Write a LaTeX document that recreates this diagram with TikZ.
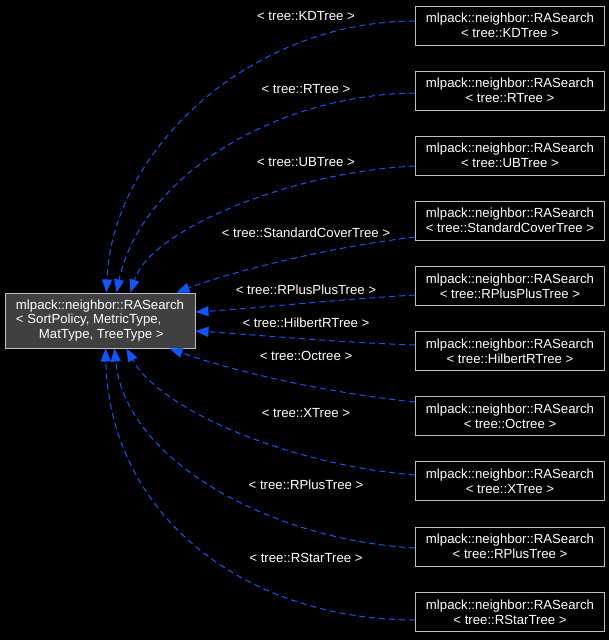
\documentclass[tikz,border=0pt]{standalone}
\usepackage{fontspec}
\setmainfont{Liberation Sans}
\usetikzlibrary{arrows.meta}
\definecolor{EdgeBlue}{RGB}{16,86,255}
\definecolor{NodeGray}{RGB}{64,64,64}
\definecolor{FrameGray}{RGB}{191,191,191}

\begin{document}
\begin{tikzpicture}[
    x=1pt,
    y=-1pt,
    font=\fontsize{13.2}{14.6}\selectfont,
    every node/.style={text=white},
    base/.style={
        draw=FrameGray,
        line width=1pt,
        fill=NodeGray,
        minimum width=190pt,
        minimum height=55pt,
        inner sep=0pt,
        align=left
    },
    spec/.style={
        draw=FrameGray,
        line width=1pt,
        fill=black,
        minimum width=189pt,
        minimum height=39pt,
        inner sep=0pt,
        align=center
    },
    dep/.style={
        draw=EdgeBlue,
        line width=1pt,
        dash pattern=on 6pt off 4pt,
        -{Triangle[length=13pt,width=10pt]}
    },
    lbl/.style={inner sep=1pt}
]

\fill[black] (0,0) rectangle (609,640);
\useasboundingbox (0,0) rectangle (609,640);

\node[base] (ra) at (100,320.5) {mlpack::neighbor::RASearch\\< SortPolicy, MetricType,\\\hspace*{23pt}MatType, TreeType >};

\node[spec] (kd)  at (510,25.5)  {mlpack::neighbor::RASearch\\< tree::KDTree >};
\node[spec] (rt)  at (510,90.5)  {mlpack::neighbor::RASearch\\< tree::RTree >};
\node[spec] (ub)  at (510,155.5) {mlpack::neighbor::RASearch\\< tree::UBTree >};
\node[spec] (sc)  at (510,220.5) {mlpack::neighbor::RASearch\\< tree::StandardCoverTree >};
\node[spec] (rpp) at (510,286)   {mlpack::neighbor::RASearch\\< tree::RPlusPlusTree >};
\node[spec] (hil) at (510,351)   {mlpack::neighbor::RASearch\\< tree::HilbertRTree >};
\node[spec] (oct) at (510,416)   {mlpack::neighbor::RASearch\\< tree::Octree >};
\node[spec] (xt)  at (510,481)   {mlpack::neighbor::RASearch\\< tree::XTree >};
\node[spec] (rp)  at (510,546.5) {mlpack::neighbor::RASearch\\< tree::RPlusTree >};
\node[spec] (rs)  at (510,612)   {mlpack::neighbor::RASearch\\< tree::RStarTree >};

% edges, top group
\draw[dep] ([yshift=4.5pt]kd.west) .. controls (250,21) and (112,150) .. ([xshift=102pt]ra.north west);
\draw[dep] ([yshift=-2.5pt]rt.west) .. controls (270,95) and (140,180) .. ([xshift=112pt]ra.north west);
\draw[dep] ([yshift=-10.5pt]ub.west) .. controls (290,172) and (150,230) .. ([xshift=126pt]ra.north west);
\draw[dep] ([yshift=-16.5pt]sc.west) .. controls (330,247) and (230,272) .. ([xshift=172pt]ra.north west);
\draw[dep] ([yshift=-9pt]rpp.west) .. controls (330,300) and (260,308) .. ([yshift=-19.5pt]ra.north east);
\draw[dep] ([yshift=6pt]hil.west) .. controls (330,342) and (260,335) .. ([yshift=17.5pt]ra.south east);
% edges, bottom group
\draw[dep] ([yshift=14pt]oct.west) .. controls (320,392) and (230,370) .. ([xshift=165pt]ra.south west);
\draw[dep] ([yshift=6pt]xt.west) .. controls (290,465) and (160,410) .. ([xshift=122pt]ra.south west);
\draw[dep] ([yshift=-1.5pt]rp.west) .. controls (270,540) and (125,460) .. ([xshift=110pt]ra.south west);
\draw[dep] ([yshift=-8pt]rs.west) .. controls (250,620) and (110,520) .. ([xshift=101pt]ra.south west);

\node[lbl] (lkd)  at (306,16)  {< tree::KDTree >};
\node[lbl] (lrt)  at (306,89)  {< tree::RTree >};
\node[lbl] (lub)  at (306,162) {< tree::UBTree >};
\node[lbl] (lsc)  at (306,233) {< tree::StandardCoverTree >};
\node[lbl] (lrpp) at (306,290) {< tree::RPlusPlusTree >};
\node[lbl] (lhil) at (306,323) {< tree::HilbertRTree >};
\node[lbl] (loct) at (306,356) {< tree::Octree >};
\node[lbl] (lxt)  at (306,413) {< tree::XTree >};
\node[lbl] (lrp)  at (306,485) {< tree::RPlusTree >};
\node[lbl] (lrs)  at (306,558) {< tree::RStarTree >};

\end{tikzpicture}
\end{document}
